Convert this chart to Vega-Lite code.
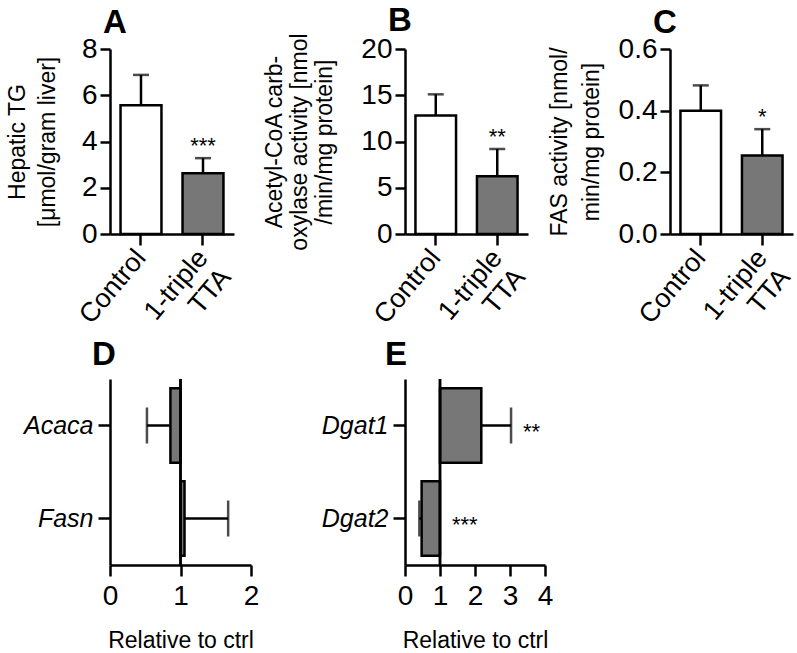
{
  "$schema": "https://vega.github.io/schema/vega-lite/v6.json",
  "autosize": {"type": "none"},
  "padding": {"left": 110, "top": 49, "right": 687, "bottom": 604},
  "background": "white",
  "bounds": "flush",
  "columns": 3,
  "spacing": {"row": 145, "column": 120},
  "config": {
    "font": "Liberation Sans",
    "view": {"stroke": null},
    "axis": {
      "grid": false,
      "domainColor": "black", "domainWidth": 2.5,
      "tickColor": "black", "tickWidth": 2.5, "tickSize": 10,
      "labelColor": "black", "labelFontSize": 28, "labelFont": "Liberation Sans", "labelPadding": 3, "labelOverlap": false, "labelFlush": false,
      "titleColor": "black", "titleFontSize": 23, "titleFontWeight": "normal", "titleFont": "Liberation Sans", "titleLineHeight": 27
    },
    "title": {"fontSize": 33, "fontWeight": "bold", "anchor": "start", "frame": "group", "color": "black", "font": "Liberation Sans"}
  },
  "concat": [
    {
      "width": 175, "height": 185,
      "title": {"text": "A", "dx": -7, "offset": 6, "dy": 11},
      "data": {"values": [
        {"group": "Control", "mean": 5.57, "upper": 6.88, "sig": ""},
        {"group": "1-triple TTA", "mean": 2.63, "upper": 3.28, "sig": "***"}
      ]},
      "encoding": {
        "x": {"field": "group", "type": "nominal", "sort": null,
          "scale": {"range": [0, 124], "paddingInner": 0.34, "paddingOuter": 0.17},
          "axis": {"title": null, "labelAngle": -50, "labelAlign": "right", "labelBaseline": "middle", "labelFontSize": 27, "labelLineHeight": 30, "tickSize": 11, "labelPadding": 8,
            "labelExpr": "datum.value == '1-triple TTA' ? ['1-triple', 'TTA'] : datum.value"}}
      },
      "layer": [
        {"mark": {"type": "bar", "stroke": "black", "strokeWidth": 2.5},
         "encoding": {
           "y": {"field": "mean", "type": "quantitative", "scale": {"domain": [0, 8]},
             "axis": {"values": [0, 2, 4, 6, 8], "title": ["Hepatic TG", "[μmol/gram liver]"], "titleLineHeight": 30, "titlePadding": 22}},
           "fill": {"field": "group", "type": "nominal", "scale": {"domain": ["Control", "1-triple TTA"], "range": ["white", "#777777"]}, "legend": null}
         }},
        {"mark": {"type": "rule", "strokeWidth": 2.5, "color": "black"},
         "encoding": {"y": {"field": "mean", "type": "quantitative", "axis": {"values": [0, 2, 4, 6, 8], "title": ["Hepatic TG", "[μmol/gram liver]"], "titleLineHeight": 30, "titlePadding": 22}}, "y2": {"field": "upper"}}},
        {"mark": {"type": "tick", "orient": "horizontal", "size": 16, "thickness": 2.5, "color": "black"},
         "encoding": {"y": {"field": "upper", "type": "quantitative", "axis": {"values": [0, 2, 4, 6, 8], "title": ["Hepatic TG", "[μmol/gram liver]"], "titleLineHeight": 30, "titlePadding": 22}}}},
        {"mark": {"type": "text", "fontSize": 22, "dy": -5, "baseline": "alphabetic", "color": "black"},
         "encoding": {"y": {"field": "upper", "type": "quantitative", "axis": {"values": [0, 2, 4, 6, 8], "title": ["Hepatic TG", "[μmol/gram liver]"], "titleLineHeight": 30, "titlePadding": 22}}, "text": {"field": "sig"}}}
      ]
    },
    {
      "width": 145, "height": 185,
      "title": {"text": "B", "dx": -17, "offset": 6, "dy": 11},
      "data": {"values": [
        {"group": "Control", "mean": 12.8, "upper": 15.1, "sig": ""},
        {"group": "1-triple TTA", "mean": 6.24, "upper": 9.19, "sig": "**"}
      ]},
      "encoding": {
        "x": {"field": "group", "type": "nominal", "sort": null,
          "scale": {"range": [0, 123], "paddingInner": 0.34, "paddingOuter": 0.17},
          "axis": {"title": null, "labelAngle": -50, "labelAlign": "right", "labelBaseline": "middle", "labelFontSize": 27, "labelLineHeight": 30, "tickSize": 11, "labelPadding": 8,
            "labelExpr": "datum.value == '1-triple TTA' ? ['1-triple', 'TTA'] : datum.value"}}
      },
      "layer": [
        {"mark": {"type": "bar", "stroke": "black", "strokeWidth": 2.5},
         "encoding": {
           "y": {"field": "mean", "type": "quantitative", "scale": {"domain": [0, 20]},
             "axis": {"values": [0, 5, 10, 15, 20], "title": ["Acetyl-CoA carb-", "oxylase activity [nmol", "/min/mg protein]"], "titleLineHeight": 25, "titlePadding": 24}},
           "fill": {"field": "group", "type": "nominal", "scale": {"domain": ["Control", "1-triple TTA"], "range": ["white", "#777777"]}, "legend": null}
         }},
        {"mark": {"type": "rule", "strokeWidth": 2.5, "color": "black"},
         "encoding": {"y": {"field": "mean", "type": "quantitative", "axis": {"values": [0, 5, 10, 15, 20], "title": ["Acetyl-CoA carb-", "oxylase activity [nmol", "/min/mg protein]"], "titleLineHeight": 25, "titlePadding": 24}}, "y2": {"field": "upper"}}},
        {"mark": {"type": "tick", "orient": "horizontal", "size": 16, "thickness": 2.5, "color": "black"},
         "encoding": {"y": {"field": "upper", "type": "quantitative", "axis": {"values": [0, 5, 10, 15, 20], "title": ["Acetyl-CoA carb-", "oxylase activity [nmol", "/min/mg protein]"], "titleLineHeight": 25, "titlePadding": 24}}}},
        {"mark": {"type": "text", "fontSize": 22, "dy": -5, "baseline": "alphabetic", "color": "black"},
         "encoding": {"y": {"field": "upper", "type": "quantitative", "axis": {"values": [0, 5, 10, 15, 20], "title": ["Acetyl-CoA carb-", "oxylase activity [nmol", "/min/mg protein]"], "titleLineHeight": 25, "titlePadding": 24}}, "text": {"field": "sig"}}}
      ]
    },
    {
      "width": 123, "height": 185,
      "title": {"text": "C", "dx": -17, "offset": 6, "dy": 11},
      "data": {"values": [
        {"group": "Control", "mean": 0.40, "upper": 0.482, "sig": ""},
        {"group": "1-triple TTA", "mean": 0.255, "upper": 0.34, "sig": "*"}
      ]},
      "encoding": {
        "x": {"field": "group", "type": "nominal", "sort": null,
          "scale": {"range": [0, 123], "paddingInner": 0.34, "paddingOuter": 0.17},
          "axis": {"title": null, "labelAngle": -50, "labelAlign": "right", "labelBaseline": "middle", "labelFontSize": 27, "labelLineHeight": 30, "tickSize": 11, "labelPadding": 8,
            "labelExpr": "datum.value == '1-triple TTA' ? ['1-triple', 'TTA'] : datum.value"}}
      },
      "layer": [
        {"mark": {"type": "bar", "stroke": "black", "strokeWidth": 2.5},
         "encoding": {
           "y": {"field": "mean", "type": "quantitative", "scale": {"domain": [0, 0.6]},
             "axis": {"values": [0, 0.2, 0.4, 0.6], "format": ".1f", "title": ["FAS activity [nmol/", "min/mg protein]"], "titleLineHeight": 32, "titlePadding": 15}},
           "fill": {"field": "group", "type": "nominal", "scale": {"domain": ["Control", "1-triple TTA"], "range": ["white", "#777777"]}, "legend": null}
         }},
        {"mark": {"type": "rule", "strokeWidth": 2.5, "color": "black"},
         "encoding": {"y": {"field": "mean", "type": "quantitative", "axis": {"values": [0, 0.2, 0.4, 0.6], "format": ".1f", "title": ["FAS activity [nmol/", "min/mg protein]"], "titleLineHeight": 32, "titlePadding": 15}}, "y2": {"field": "upper"}}},
        {"mark": {"type": "tick", "orient": "horizontal", "size": 16, "thickness": 2.5, "color": "black"},
         "encoding": {"y": {"field": "upper", "type": "quantitative", "axis": {"values": [0, 0.2, 0.4, 0.6], "format": ".1f", "title": ["FAS activity [nmol/", "min/mg protein]"], "titleLineHeight": 32, "titlePadding": 15}}}},
        {"mark": {"type": "text", "fontSize": 22, "dy": -5, "baseline": "alphabetic", "color": "black"},
         "encoding": {"y": {"field": "upper", "type": "quantitative", "axis": {"values": [0, 0.2, 0.4, 0.6], "format": ".1f", "title": ["FAS activity [nmol/", "min/mg protein]"], "titleLineHeight": 32, "titlePadding": 15}}, "text": {"field": "sig"}}}
      ]
    },
    {
      "width": 175, "height": 186,
      "title": {"text": "D", "dx": -18, "offset": 6},
      "data": {"values": [
        {"gene": "Acaca", "value": 0.857, "err": 0.524},
        {"gene": "Fasn", "value": 1.057, "err": 1.676}
      ]},
      "layer": [
        {"mark": {"type": "bar", "fill": "#777777", "stroke": "black", "strokeWidth": 2.5},
         "encoding": {
           "y": {"field": "gene", "type": "nominal", "sort": null,
             "scale": {"paddingInner": 0.2, "paddingOuter": 0.1},
             "axis": {"title": null, "labelFontStyle": "italic", "labelFontSize": 25, "labelAngle": 0, "tickSize": 12, "labelPadding": 5}},
           "x": {"field": "value", "type": "quantitative", "scale": {"domain": [0, 2], "range": [0, 141]},
             "axis": {"values": [0, 1, 2], "format": ".0f", "labelOverlap": false, "title": "Relative to ctrl", "tickSize": 11, "labelPadding": 6, "titlePadding": 19}},
           "x2": {"datum": 1}
         }},
        {"mark": {"type": "rule", "strokeWidth": 2.5, "color": "black"},
         "encoding": {"x": {"datum": 1, "type": "quantitative", "axis": {"values": [0, 1, 2], "format": ".0f", "labelOverlap": false, "title": "Relative to ctrl", "tickSize": 11, "labelPadding": 6, "titlePadding": 19}}}},
        {"mark": {"type": "rule", "strokeWidth": 2.5, "color": "black"},
         "encoding": {
           "y": {"field": "gene", "type": "nominal", "sort": null, "axis": {"title": null, "labelFontStyle": "italic", "labelFontSize": 25, "labelAngle": 0, "tickSize": 12, "labelPadding": 5}},
           "x": {"field": "err", "type": "quantitative", "axis": {"values": [0, 1, 2], "format": ".0f", "labelOverlap": false, "title": "Relative to ctrl", "tickSize": 11, "labelPadding": 6, "titlePadding": 19}}, "x2": {"field": "value"}}},
        {"mark": {"type": "tick", "orient": "vertical", "size": 36, "thickness": 2.5, "color": "black"},
         "encoding": {
           "y": {"field": "gene", "type": "nominal", "sort": null, "axis": {"title": null, "labelFontStyle": "italic", "labelFontSize": 25, "labelAngle": 0, "tickSize": 12, "labelPadding": 5}},
           "x": {"field": "err", "type": "quantitative", "axis": {"values": [0, 1, 2], "format": ".0f", "labelOverlap": false, "title": "Relative to ctrl", "tickSize": 11, "labelPadding": 6, "titlePadding": 19}}}}
      ]
    },
    {
      "width": 145, "height": 186,
      "title": {"text": "E", "dx": -20, "offset": 6},
      "data": {"values": [
        {"gene": "Dgat1", "value": 2.18, "err": 3.03, "sig": "**"},
        {"gene": "Dgat2", "value": 0.475, "err": 0.41, "sig": "***"}
      ]},
      "layer": [
        {"mark": {"type": "bar", "fill": "#777777", "stroke": "black", "strokeWidth": 2.5},
         "encoding": {
           "y": {"field": "gene", "type": "nominal", "sort": null,
             "scale": {"paddingInner": 0.2, "paddingOuter": 0.1},
             "axis": {"title": null, "labelFontStyle": "italic", "labelFontSize": 25, "labelAngle": 0, "tickSize": 12, "labelPadding": 5}},
           "x": {"field": "value", "type": "quantitative", "scale": {"domain": [0, 4], "range": [0, 140]},
             "axis": {"values": [0, 1, 2, 3, 4], "format": ".0f", "labelOverlap": false, "title": "Relative to ctrl", "tickSize": 11, "labelPadding": 6, "titlePadding": 19}},
           "x2": {"datum": 1}
         }},
        {"mark": {"type": "rule", "strokeWidth": 2.5, "color": "black"},
         "encoding": {"x": {"datum": 1, "type": "quantitative", "axis": {"values": [0, 1, 2, 3, 4], "format": ".0f", "labelOverlap": false, "title": "Relative to ctrl", "tickSize": 11, "labelPadding": 6, "titlePadding": 19}}}},
        {"mark": {"type": "rule", "strokeWidth": 2.5, "color": "black"},
         "encoding": {
           "y": {"field": "gene", "type": "nominal", "sort": null, "axis": {"title": null, "labelFontStyle": "italic", "labelFontSize": 25, "labelAngle": 0, "tickSize": 12, "labelPadding": 5}},
           "x": {"field": "err", "type": "quantitative", "axis": {"values": [0, 1, 2, 3, 4], "format": ".0f", "labelOverlap": false, "title": "Relative to ctrl", "tickSize": 11, "labelPadding": 6, "titlePadding": 19}}, "x2": {"field": "value"}}},
        {"mark": {"type": "tick", "orient": "vertical", "size": 36, "thickness": 2.5, "color": "black"},
         "encoding": {
           "y": {"field": "gene", "type": "nominal", "sort": null, "axis": {"title": null, "labelFontStyle": "italic", "labelFontSize": 25, "labelAngle": 0, "tickSize": 12, "labelPadding": 5}},
           "x": {"field": "err", "type": "quantitative", "axis": {"values": [0, 1, 2, 3, 4], "format": ".0f", "labelOverlap": false, "title": "Relative to ctrl", "tickSize": 11, "labelPadding": 6, "titlePadding": 19}}}},
        {"transform": [{"calculate": "max(datum.value, datum.err, 1)", "as": "anchor"}],
         "mark": {"type": "text", "fontSize": 22, "align": "left", "baseline": "middle", "dx": 12, "dy": 6, "color": "black"},
         "encoding": {
           "y": {"field": "gene", "type": "nominal", "sort": null, "axis": {"title": null, "labelFontStyle": "italic", "labelFontSize": 25, "labelAngle": 0, "tickSize": 12, "labelPadding": 5}},
           "x": {"field": "anchor", "type": "quantitative", "axis": {"values": [0, 1, 2, 3, 4], "format": ".0f", "labelOverlap": false, "title": "Relative to ctrl", "tickSize": 11, "labelPadding": 6, "titlePadding": 19}}, "text": {"field": "sig"}}}
      ]
    }
  ]
}
